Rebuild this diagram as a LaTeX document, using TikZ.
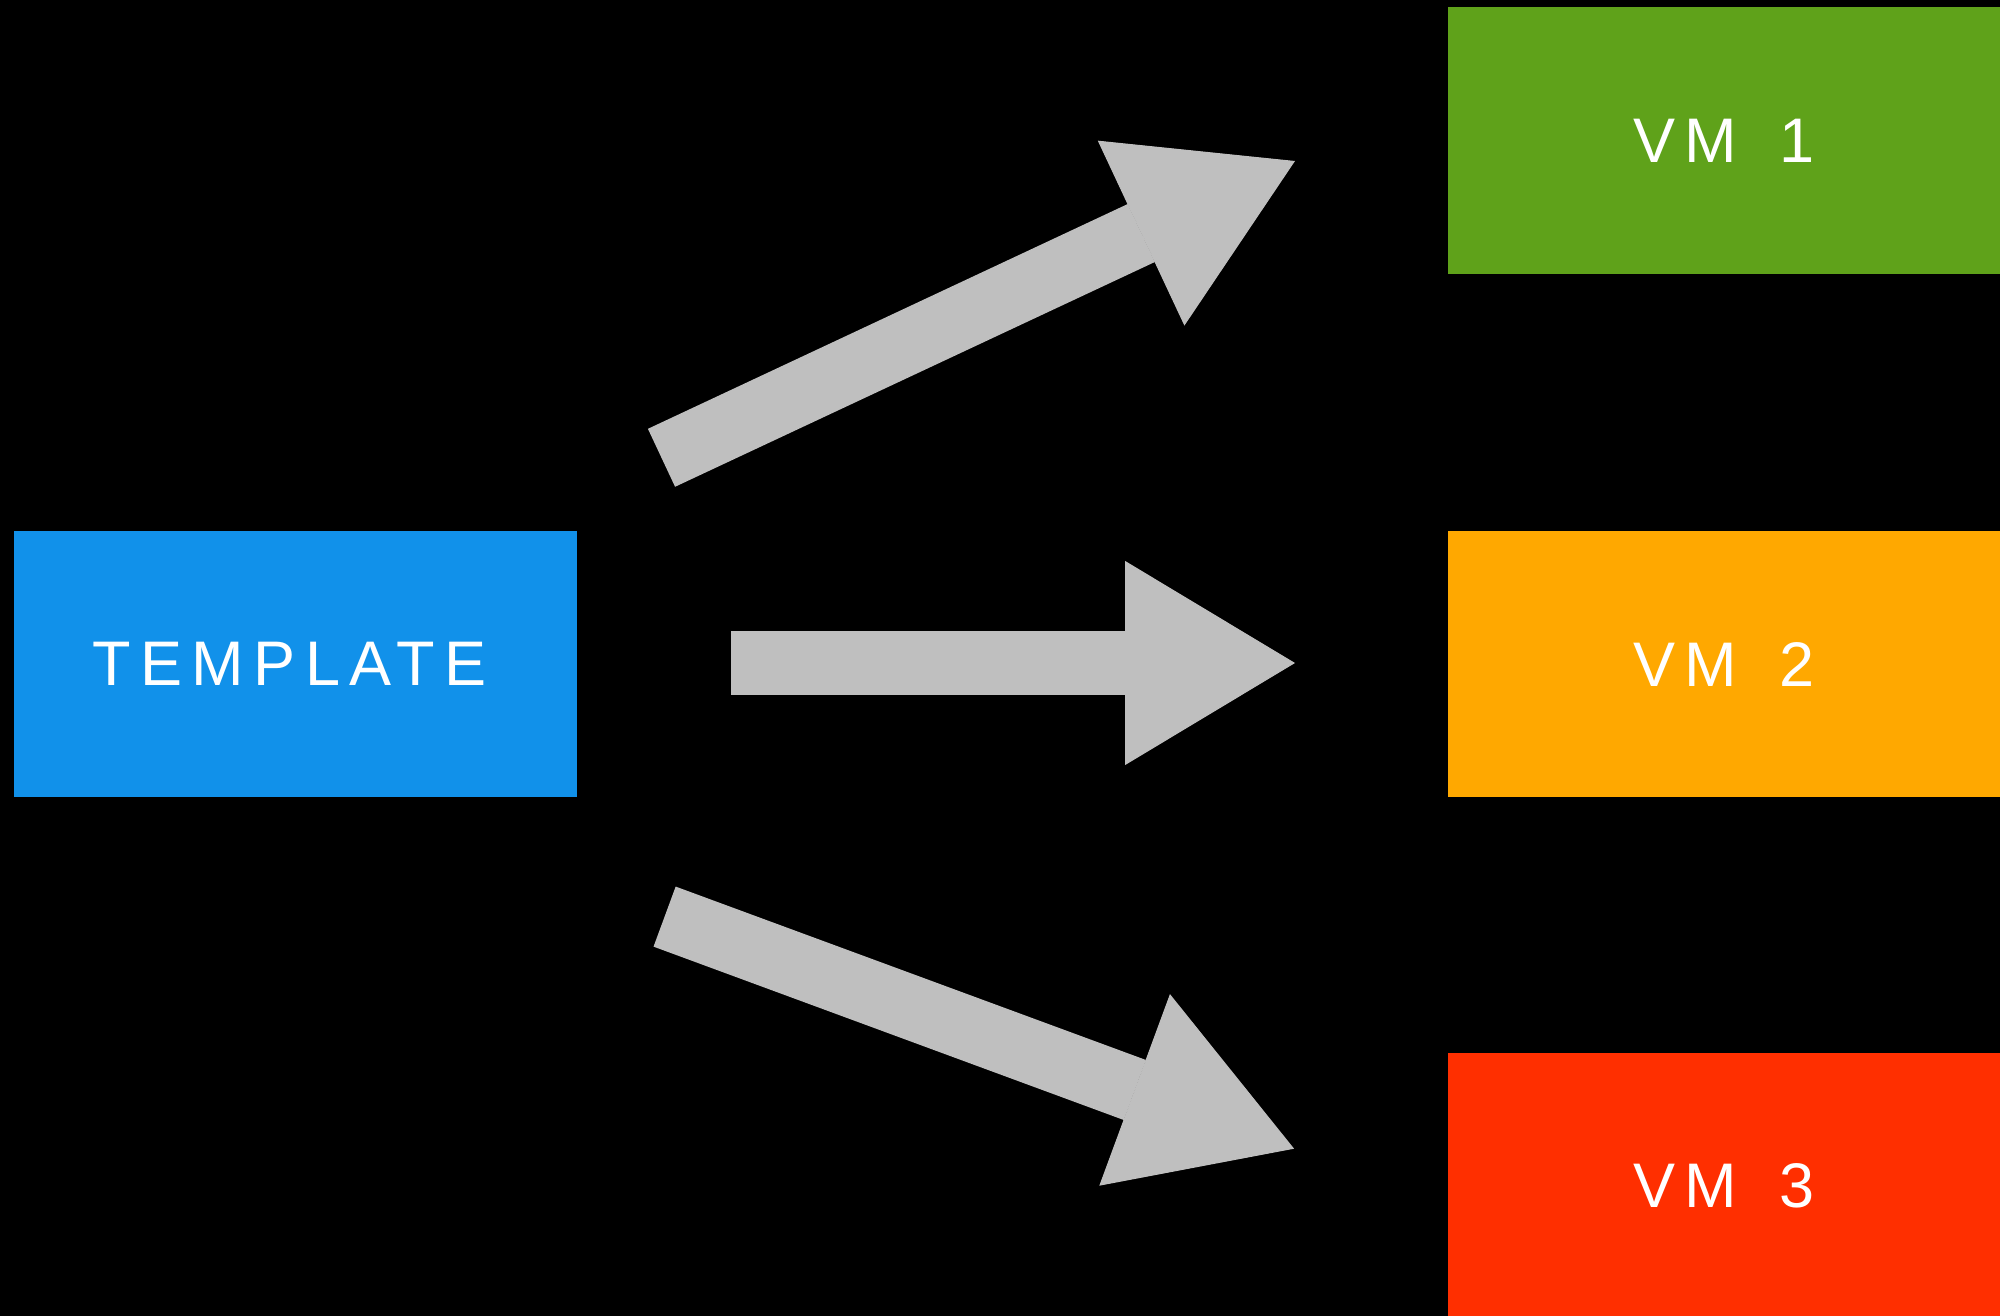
\documentclass[tikz,border=0pt]{standalone}
\usepackage{fontspec}
\setmainfont{Liberation Sans}[LetterSpace=15]
\usetikzlibrary{arrows.meta}
\definecolor{tplblue}{RGB}{17,145,234}
\definecolor{vmgreen}{RGB}{95,162,26}
\definecolor{vmorange}{RGB}{255,168,0}
\definecolor{vmred}{RGB}{255,47,0}
\definecolor{arrowgray}{RGB}{191,191,191}
\begin{document}
\begin{tikzpicture}[x=1pt,y=-1pt,
  box/.style={rectangle, inner sep=0pt, minimum height=266pt, text=white,
    font=\fontsize{63}{70}\selectfont},
  bigarrow/.style={draw=arrowgray, line width=64pt, line cap=butt,
    -{Triangle[length=170pt,width=204pt,line width=1pt,fill=arrowgray]}}]
\useasboundingbox (0,0) rectangle (2000,1316);
\fill[black] (0,0) rectangle (2000,1316);
\node[box, fill=tplblue, minimum width=563pt] (tpl) at (295.5,664) {TEMPLATE\kern12pt};
\node[box, fill=vmgreen, minimum width=552pt, minimum height=267pt] (vm1) at (1724,140.5) {VM \kern16pt 1};
\node[box, fill=vmorange, minimum width=552pt] (vm2) at (1724,664) {VM \kern16pt 2};
\node[box, fill=vmred, minimum width=552pt] (vm3) at (1724,1186) {VM \kern16pt 3};
\coordinate (t1) at (661.5,457.8);
\coordinate (h1) at (1295,161);
\coordinate (t2) at (731,663);
\coordinate (h2) at (1295,663);
\coordinate (t3) at (664.6,916.6);
\coordinate (h3) at (1294.1,1148.7);
\draw[bigarrow] (t1) -- (h1);
\draw[bigarrow] (t2) -- (h2);
\draw[bigarrow] (t3) -- (h3);
\end{tikzpicture}
\end{document}
